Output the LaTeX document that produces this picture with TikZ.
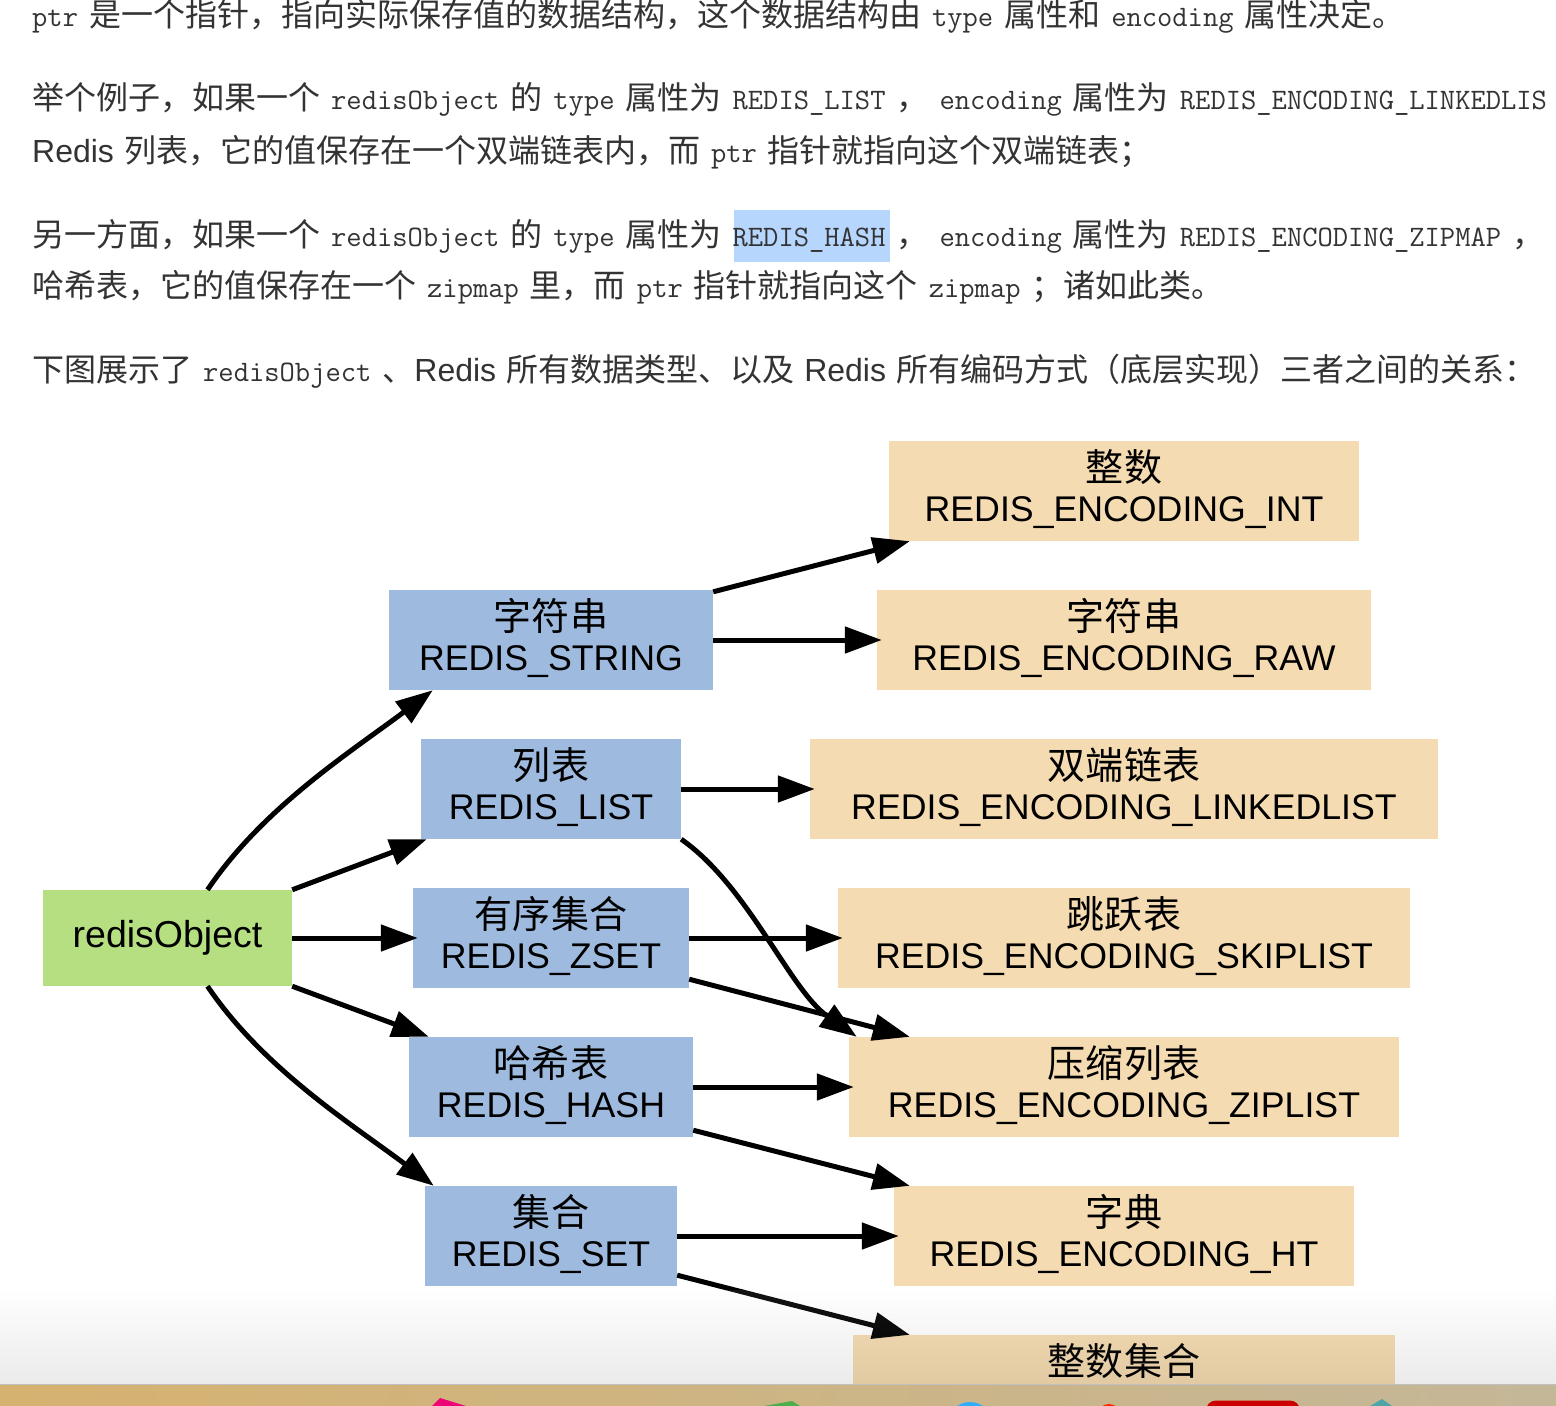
\documentclass[tikz,border=0pt]{standalone}
\usepackage{fontspec}
\setmainfont{Liberation Sans}
\newfontfamily\cjk{Noto Sans CJK SC}
\newfontfamily\zh[Scale=1.065]{Noto Sans CJK SC}
\newfontfamily\lat{Liberation Sans}
\usetikzlibrary{arrows.meta}

\definecolor{objgreen}{RGB}{181,223,129}
\definecolor{typeblue}{RGB}{158,187,223}
\definecolor{enctan}{RGB}{245,219,177}
\definecolor{bodygray}{RGB}{51,51,51}
\definecolor{selblue}{RGB}{182,214,253}
\definecolor{dockleft}{RGB}{214,178,112}
\definecolor{dockright}{RGB}{196,183,152}

\newcommand{\mono}[1]{{\ttfamily\fontsize{29.7}{36}\selectfont #1}}
\newcommand{\cd}[1]{\hspace{11pt}\mono{#1}\hspace{11pt}}
\newcommand{\twoline}[2]{\rule{0pt}{34pt}{\zh #1}\\#2\rule[-14pt]{0pt}{14pt}}

\tikzset{
  basebox/.style={inner sep=0pt, minimum height=100pt, align=center, font=\fontsize{35.7}{40}\selectfont},
  objbox/.style={basebox, fill=objgreen, minimum height=96pt, font=\fontsize{37.5}{40}\selectfont},
  typebox/.style={basebox, fill=typeblue},
  encbox/.style={basebox, fill=enctan},
  conn/.style={line width=5pt, -{Triangle[length=37pt,width=26pt]}},
  para/.style={anchor=base west, inner sep=0pt, text=bodygray, font=\cjk\fontsize{32}{40}\selectfont}
}

\begin{document}
\begin{tikzpicture}[x=1pt, y=-1pt]
            \useasboundingbox (0,0) rectangle (1556,1406);
            \fill[white] (0,0) rectangle (1556,1406);
            % 正文
            \fill[selblue] (734,210) rectangle (890,262);
            \node[para] (l1) at (32,26) {\mono{ptr}\hspace{11pt}是一个指针，指向实际保存值的数据结构，这个数据结构由\cd{type}属性和\cd{encoding}属性决定。};
            \node[para] (l2) at (32,109.5) {举个例子，如果一个\cd{redisObject}的\cd{type}属性为\cd{REDIS\_LIST}，\cd{encoding}属性为\cd{REDIS\_ENCODING\_LINKEDLIS}};
            \node[para] (l3) at (32,162.5) {{\lat Redis}\hspace{10pt}列表，它的值保存在一个双端链表内，而\cd{ptr}指针就指向这个双端链表；};
            \node[para] (l4) at (32,246) {另一方面，如果一个\cd{redisObject}的\cd{type}属性为\cd{REDIS\_HASH}，\cd{encoding}属性为\cd{REDIS\_ENCODING\_ZIPMAP}，};
            \node[para] (l5) at (32,297.5) {哈希表，它的值保存在一个\cd{zipmap}里，而\cd{ptr}指针就指向这个\cd{zipmap}；诸如此类。};
            \node[para] (l6) at (32,381) {下图展示了\cd{redisObject}、{\lat Redis}\hspace{10pt}所有数据类型、以及\hspace{10pt}{\lat Redis}\hspace{10pt}所有编码方式（底层实现）三者之间的关系：};
            % redisObject
            \node[objbox, minimum width=249pt] (robj) at (167.5,938) {redisObject};
            % 数据类型
            \node[typebox, minimum width=324pt] (str) at (551,640) {\twoline{字符串}{REDIS\_STRING}};
            \node[typebox, minimum width=260pt] (lst) at (551,789) {\twoline{列表}{REDIS\_LIST}};
            \node[typebox, minimum width=276pt] (zset) at (551,938) {\twoline{有序集合}{REDIS\_ZSET}};
            \node[typebox, minimum width=284pt] (hash) at (551,1087) {\twoline{哈希表}{REDIS\_HASH}};
            \node[typebox, minimum width=252pt] (set) at (551,1236) {\twoline{集合}{REDIS\_SET}};
            % 编码方式
            \node[encbox, minimum width=470pt] (int) at (1124,491) {\twoline{整数}{REDIS\_ENCODING\_INT}};
            \node[encbox, minimum width=494pt] (raw) at (1124,640) {\twoline{字符串}{REDIS\_ENCODING\_RAW}};
            \node[encbox, minimum width=628pt] (lnk) at (1124,789) {\twoline{双端链表}{REDIS\_ENCODING\_LINKEDLIST}};
            \node[encbox, minimum width=572pt] (skip) at (1124,938) {\twoline{跳跃表}{REDIS\_ENCODING\_SKIPLIST}};
            \node[encbox, minimum width=550pt] (zip) at (1124,1087) {\twoline{压缩列表}{REDIS\_ENCODING\_ZIPLIST}};
            \node[encbox, minimum width=460pt] (ht) at (1124,1236) {\twoline{字典}{REDIS\_ENCODING\_HT}};
            \begin{scope}
              \clip (0,0) rectangle (1556,1384);
              \node[encbox, minimum width=542pt] (iset) at (1124,1385) {\twoline{整数集合}{}};
            \end{scope}
            % redisObject 到数据类型
            \draw[conn] ([xshift=40pt]robj.north) .. controls +(-56:100) and +(143:100) .. ([xshift=44pt]str.south west);
            \draw[conn] (robj.north east) -- ([xshift=6pt]lst.south west);
            \draw[conn] (robj.east) -- ([xshift=5pt]zset.west);
            \draw[conn] (robj.south east) -- ([xshift=20pt]hash.north west);
            \draw[conn] ([xshift=40pt]robj.south) .. controls +(56:100) and +(217:100) .. ([xshift=9pt]set.north west);
            % 数据类型到编码方式
            \draw[conn] ([yshift=-2pt]str.north east) -- ([xshift=21pt]int.south west);
            \draw[conn] (str.east) -- ([xshift=5pt]raw.west);
            \draw[conn] (lst.east) -- ([xshift=5pt]lnk.west);
            \draw[conn] (lst.south east) .. controls +(35:82) and +(215:82) .. ([xshift=8pt]zip.north west);
            \draw[conn] (zset.east) -- ([xshift=5pt]skip.west);
            \draw[conn] ([yshift=9pt]zset.south east) -- ([xshift=61pt]zip.north west);
            \draw[conn] (hash.east) -- ([xshift=5pt]zip.west);
            \draw[conn] ([yshift=7pt]hash.south east) -- ([xshift=16pt]ht.north west);
            \draw[conn] (set.east) -- ([xshift=5pt]ht.west);
            \draw[conn] ([yshift=11pt]set.south east) -- ([xshift=57pt]iset.north west);
            % 底部阴影和 Dock
            \shade[top color=white, bottom color=black, opacity=0.08] (0,1290) rectangle (1556,1384);
            \begin{scope}
              \clip (0,1384) rectangle (1556,1406);
              \shade[left color=dockleft, right color=dockright] (0,1384) rectangle (1556,1406);
              \fill[black!25] (0,1383) rectangle (1556,1385);
              \fill[magenta!80!red] (432,1406) -- (440,1398) -- (466,1406) -- cycle;
              \fill[green!55!black!70] (764,1406) -- (792,1401) -- (800,1406) -- cycle;
              \fill[blue!40!cyan!80] (970,1425) circle (23);
              \fill[red!70!orange] (1109,1416) circle (12);
              \fill[red!80!black, rounded corners=10pt] (1206,1400.5) rectangle (1300,1440);
              \fill[teal!70] (1370,1406) -- (1382,1399) -- (1392,1406) -- cycle;
            \end{scope}
        \end{tikzpicture}
\end{document}
